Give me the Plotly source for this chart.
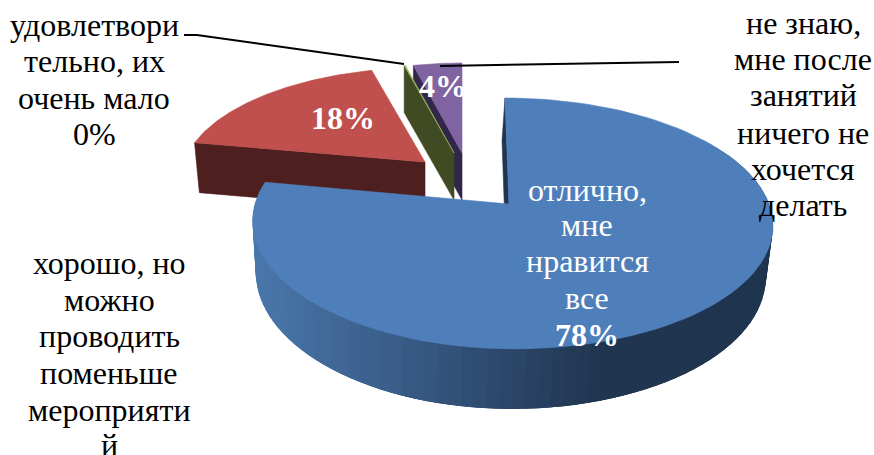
import math
import plotly.graph_objects as go

# ---- data ----
categories = ["отлично, мне нравится все", "хорошо, но можно проводить поменьше мероприятий",
              "удовлетворительно, их очень мало", "не знаю, мне после занятий ничего не хочется делать"]
values = [78, 18, 0.1, 4]
percent_labels = ["78%", "18%", "0%", "4%"]
face_colors = ["#4F7FBB", "#C0504D", "#9BBB59", "#8064A2"]
wall_colors = ["#203550", "#4D1F1F", "#404A23", "#32264A"]
label_lines_0 = ["отлично,", "мне", "нравится", "все"]
label_lines_1 = ["хорошо, но", "можно", "проводить", "поменьше", "мероприяти", "й"]
label_lines_2 = ["удовлетвори", "тельно, их", "очень мало"]
label_lines_3 = ["не знаю,", "мне после", "занятий", "ничего не", "хочется", "делать"]

# ---- projection geometry ----
P = 0.155
GEO = {
    0: dict(top=(509, 204, 260, 254, 122.4, -4.6), bot=(506, 254, 256, 248, 131, -4.6)),
    1: dict(top=(425, 162, 241, 241, 109, 0), bot=(425, 212, 236, 236, 109, 0)),
    2: dict(top=(454, 153, 225, 225, 104, 0), bot=(454, 200, 225, 225, 104, 0)),
    3: dict(top=(462, 153, 225, 225, 104, 0), bot=(462, 200, 225, 225, 104, 0)),
}


def proj(theta, g):
    cx, cy, ap, an, b, s = g
    X, Y = math.sin(theta), math.cos(theta)
    w = 1 + P * Y
    a = ap if X >= 0 else an
    return cx + (a * X + s * Y) / w, cy - b * Y / w


total = sum(values)
bounds = [0.0]
for v in values:
    bounds.append(bounds[-1] + v / total * 2 * math.pi)


def arc(i, key, t0, t1, n=80):
    return [proj(t0 + (t1 - t0) * k / n, GEO[i][key]) for k in range(n + 1)]


def poly(fig, pts, color, lw=0.6):
    xs = [p[0] for p in pts] + [pts[0][0]]
    ys = [p[1] for p in pts] + [pts[0][1]]
    fig.add_trace(go.Scatter(x=xs, y=ys, mode="lines", fill="toself", fillcolor=color,
                             line=dict(color=color, width=lw), hoverinfo="skip", showlegend=False))


def face(fig, i):
    t0, t1 = bounds[i], bounds[i + 1]
    c = GEO[i]["top"][:2]
    poly(fig, [c] + arc(i, "top", t0, t1, 120), face_colors[i])


def edge_wall(fig, i, t):
    g = GEO[i]
    poly(fig, [g["top"][:2], proj(t, g["top"]), proj(t, g["bot"]), g["bot"][:2]], wall_colors[i])


STOPS = [(250, (0x4A, 0x78, 0xAC)), (400, (0x39, 0x5D, 0x89)), (530, (0x2A, 0x44, 0x65)),
         (610, (0x20, 0x35, 0x50)), (780, (0x1F, 0x34, 0x4F))]


def shade(x):
    for (x0, c0), (x1, c1) in zip(STOPS, STOPS[1:]):
        if x <= x1:
            f = max(0, (x - x0) / (x1 - x0))
            return "rgb(%d,%d,%d)" % tuple(round(a + (b - a) * f) for a, b in zip(c0, c1))
    return "rgb(31,52,79)"


fig = go.Figure()

# purple, green behind
edge_wall(fig, 3, bounds[3])
face(fig, 3)
edge_wall(fig, 2, bounds[2])
face(fig, 2)

# red
edge_wall(fig, 1, bounds[1])
face(fig, 1)

# blue: start edge wall, outer wall bands (overlapping so no seams show), then the face
edge_wall(fig, 0, 0.0)
N = 90
t_a, t_b = math.radians(60), bounds[1]
for k in range(N):
    t0 = t_a + (t_b - t_a) * k / N
    t1 = t_a + (t_b - t_a) * min(k + 3, N) / N
    p0, p1 = proj(t0, GEO[0]["top"]), proj(t1, GEO[0]["top"])
    q0, q1 = proj(t0, GEO[0]["bot"]), proj(t1, GEO[0]["bot"])
    poly(fig, [p0, p1, q1, q0], shade(p0[0]), lw=0)
face(fig, 0)

# leader lines
fig.add_trace(go.Scatter(x=[184, 197, 404], y=[35, 35, 64], mode="lines",
                         line=dict(color="black", width=2), hoverinfo="skip", showlegend=False))
fig.add_trace(go.Scatter(x=[440, 679], y=[66, 62], mode="lines",
                         line=dict(color="black", width=2), hoverinfo="skip", showlegend=False))

FONT = "Liberation Serif"


def note(text, x, y, color="black", size=32):
    fig.add_annotation(x=x, y=y, text=text, showarrow=False, xanchor="center", yanchor="middle",
                       align="center", font=dict(family=FONT, size=size, color=color))


for line, y in zip(label_lines_2 + [percent_labels[2]], [25, 61, 98, 134]):
    note(line, 94, y)
for line, y in zip(label_lines_3, [23, 59, 95, 133, 169, 205]):
    note(line, 803, y)
for line, y in zip(label_lines_1, [263, 300, 336, 373, 410, 445]):
    note(line, 109, y)
for line, y in zip(label_lines_0, [190, 225, 261, 298]):
    note(line, 587, y, "white")
note("<b>" + percent_labels[0] + "</b>", 587, 335, "white")
note("<b>" + percent_labels[1] + "</b>", 343, 118, "white")
note("<b>" + percent_labels[3] + "</b>", 443, 86, "white")

fig.update_layout(width=874, height=455, margin=dict(l=0, r=0, t=0, b=0),
                  paper_bgcolor="white", plot_bgcolor="white", showlegend=False,
                  xaxis=dict(range=[0, 874], visible=False, fixedrange=True),
                  yaxis=dict(range=[455, 0], visible=False, fixedrange=True))

fig.write_html("out.html", config={"displayModeBar": False},
               post_script="document.body.style.margin='0';")
